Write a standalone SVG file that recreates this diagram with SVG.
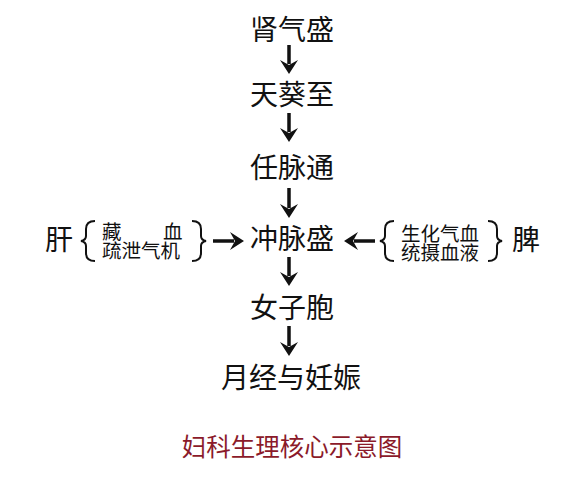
<svg xmlns="http://www.w3.org/2000/svg" width="587" height="500" viewBox="0 0 587 500">
<defs>
<style>
.t{font-family:"Liberation Serif","Noto Sans CJK SC",serif;font-size:28px;fill:#111;text-anchor:middle}
.s{font-family:"Liberation Serif","Noto Sans CJK SC",serif;font-size:19.5px;fill:#111}
.title{font-family:"Noto Sans CJK SC",sans-serif;font-size:24.5px;fill:#8b1a2a;text-anchor:middle}
.a{stroke:#111;stroke-width:3.5;fill:none}
.h{fill:#111}
.br{stroke:#111;stroke-width:2;fill:none}
</style>
</defs>
<rect width="587" height="500" fill="#fff"/>
<g id="n1"><text class="t" x="292" y="40">肾气盛</text></g>
<g id="n2"><text class="t" x="292" y="105">天葵至</text></g>
<g id="n3"><text class="t" x="292" y="178">任脉通</text></g>
<g id="n4"><text class="t" x="292" y="249">冲脉盛</text></g>
<g id="n5"><text class="t" x="292" y="318">女子胞</text></g>
<g id="n6"><text class="t" x="291" y="388">月经与妊娠</text></g>
<g id="liver">
<text class="t" x="59" y="250">肝</text>
<path class="br" d="M95 221 Q86 221 86 229 L86 236 Q86 240 81 241 Q86 242 86 246 L86 253 Q86 261 95 261"/>
<text class="s" x="102" y="239">藏</text>
<text class="s" x="163" y="239">血</text>
<text class="s" x="102" y="258">疏泄气机</text>
<path class="br" d="M192 221 Q201 221 201 229 L201 236 Q201 240 206 241 Q201 242 201 246 L201 253 Q201 261 192 261"/>
</g>
<g id="spleen">
<path class="br" d="M394 221 Q385 221 385 229 L385 236 Q385 240 380 241 Q385 242 385 246 L385 253 Q385 261 394 261"/>
<text class="s" x="401" y="241">生化气血</text>
<text class="s" x="401" y="260">统摄血液</text>
<path class="br" d="M488 221 Q497 221 497 229 L497 236 Q497 240 502 241 Q497 242 497 246 L497 253 Q497 261 488 261"/>
<text class="t" x="526" y="250">脾</text>
</g>
<g id="title"><text class="title" x="292" y="456">妇科生理核心示意图</text></g>
<g id="connectors">
<path class="a" d="M289 45 V64"/><path class="h" d="M280 60 L289 74 L298 60 L289 65 Z"/>
<path class="a" d="M289 113 V132"/><path class="h" d="M280 128 L289 142 L298 128 L289 133 Z"/>
<path class="a" d="M289 188 V208"/><path class="h" d="M280 204 L289 218 L298 204 L289 209 Z"/>
<path class="a" d="M289 257 V276"/><path class="h" d="M280 272 L289 286 L298 272 L289 277 Z"/>
<path class="a" d="M289 326 V346"/><path class="h" d="M280 342 L289 356 L298 342 L289 347 Z"/>
<path class="a" d="M213 241 H234"/><path class="h" d="M230 232 L244 241 L230 250 L235 241 Z"/>
<path class="a" d="M375 241 H354"/><path class="h" d="M358 232 L344 241 L358 250 L353 241 Z"/>
</g>
</svg>
